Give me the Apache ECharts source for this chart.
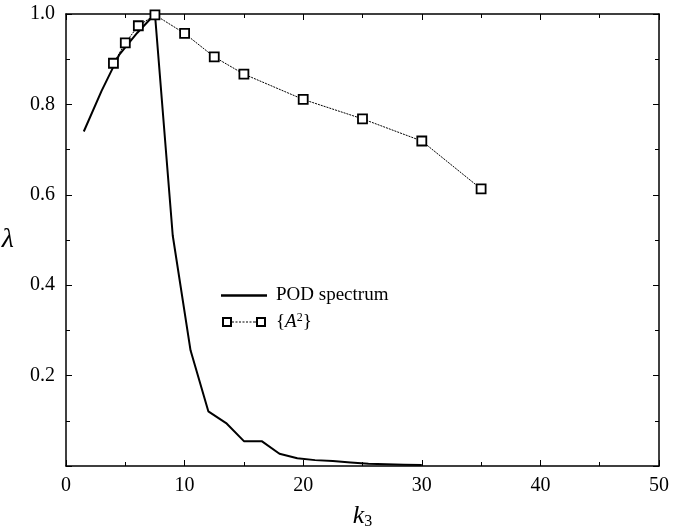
<!DOCTYPE html>
<html>
<head>
<meta charset="utf-8">
<script src="https://cdn.jsdelivr.net/npm/echarts@6/dist/echarts.min.js"></script>
<style>
html, body { margin: 0; padding: 0; background: #fff; }
#main { width: 673px; height: 530px; }
</style>
</head>
<body>
<div id="main"></div>
<script>
var podK = [1.5, 3, 4.5, 6, 7.5, 9, 10.5, 12, 13.5, 15, 16.5, 18, 19.5, 21, 22.5, 24, 25.5, 27, 28.5, 30];
var podLambda = [0.74, 0.83, 0.91, 0.958, 1.0, 0.51, 0.256, 0.121, 0.095, 0.055, 0.055, 0.027, 0.017, 0.013, 0.011, 0.008, 0.005, 0.004, 0.003, 0.002];
var ampK = [4, 5, 6.1, 7.5, 10, 12.5, 15, 20, 25, 30, 35];
var ampLambda = [0.891, 0.936, 0.974, 0.998, 0.957, 0.905, 0.867, 0.811, 0.768, 0.719, 0.613];
var yTicks = ['', '0.2', '0.4', '0.6', '0.8', '1.0'];

var font = 'Liberation Serif';
var dom = document.getElementById('main');
var chart = echarts.init(dom);

function pairs(xs, ys) {
    return xs.map(function (x, i) { return [x, ys[i]]; });
}

var lineIcon = 'path://M0,4 L44,4 L44,6.2 L0,6.2 Z';
var sqIcon = 'path://M0,0 L10,0 L10,10 L0,10 Z M2,2 L2,8 L8,8 L8,2 Z ' +
    'M10,4.6 L12,4.6 L12,5.4 L10,5.4 Z M13.5,4.6 L15.5,4.6 L15.5,5.4 L13.5,5.4 Z ' +
    'M17,4.6 L19,4.6 L19,5.4 L17,5.4 Z M20.5,4.6 L22.5,4.6 L22.5,5.4 L20.5,5.4 Z ' +
    'M24,4.6 L26,4.6 L26,5.4 L24,5.4 Z M27.5,4.6 L29.5,4.6 L29.5,5.4 L27.5,5.4 Z ' +
    'M31,4.6 L34,4.6 L34,5.4 L31,5.4 Z ' +
    'M34,0 L44,0 L44,10 L34,10 Z M36,2 L36,8 L42,8 L42,2 Z';

function frameAxis(extra) {
    var a = {
        type: 'value',
        axisLine: { show: true, onZero: false, lineStyle: { color: '#000', width: 1.5 } },
        axisTick: { inside: true, length: 6, lineStyle: { color: '#000' } },
        minorTick: { show: true, splitNumber: 2, length: 4, lineStyle: { color: '#000' } },
        axisLabel: { show: false },
        splitLine: { show: false }
    };
    for (var k in extra) a[k] = extra[k];
    return a;
}

var option = {
    backgroundColor: '#fff',
    animation: false,
    grid: { left: 66, right: 14, top: 14, bottom: 64, containLabel: false, outerBoundsMode: 'none' },
    legend: {
        left: 216,
        top: 281,
        orient: 'vertical',
        itemGap: 7,
        itemWidth: 46,
        itemHeight: 10,
        textStyle: {
            fontFamily: font, fontSize: 19, color: '#000', padding: [0, 0, 0, 4],
            rich: {
                i: { fontFamily: font, fontStyle: 'italic', fontSize: 19, color: '#000' },
                s: { fontFamily: font, fontSize: 12, color: '#000', verticalAlign: 'top', padding: [0, 0, 8, 0] }
            }
        },
        formatter: function (name) {
            return name === 'A2' ? '{{i|A}{s|2}}' : name;
        },
        data: [
            { name: 'POD spectrum', icon: lineIcon, itemStyle: { color: '#000', borderWidth: 0 } },
            { name: 'A2', icon: sqIcon, itemStyle: { color: '#000', borderWidth: 0 } }
        ]
    },
    xAxis: [frameAxis({
        min: 0, max: 50, interval: 10,
        name: '{k|k}{s|3}',
        nameLocation: 'middle', nameGap: 36,
        nameTextStyle: {
            rich: {
                k: { fontFamily: font, fontStyle: 'italic', fontSize: 26, color: '#000' },
                s: { fontFamily: font, fontSize: 16, color: '#000', verticalAlign: 'bottom', padding: [12, 0, 0, 0] }
            }
        },
        axisLabel: { show: true, fontFamily: font, fontSize: 20, color: '#000', margin: 10 }
    }), frameAxis({
        min: 0, max: 50, interval: 10, position: 'top'
    })],
    yAxis: [frameAxis({
        min: 0, max: 1, interval: 0.2,
        name: 'λ',
        nameLocation: 'middle', nameGap: 52, nameRotate: 0,
        nameTextStyle: { fontFamily: font, fontStyle: 'italic', fontSize: 28, color: '#000' },
        axisLabel: {
            show: true, fontFamily: font, fontSize: 20, color: '#000', margin: 11,
            formatter: function (v) { return yTicks[Math.round(v / 0.2)]; }
        }
    }), frameAxis({
        min: 0, max: 1, interval: 0.2, position: 'right'
    })],
    series: [{
        name: 'POD spectrum',
        type: 'line',
        data: pairs(podK, podLambda),
        symbol: 'none',
        lineStyle: { color: '#000', width: 2 },
        itemStyle: { color: '#000' }
    }, {
        name: 'A2',
        type: 'line',
        data: pairs(ampK, ampLambda),
        symbol: 'rect',
        symbolSize: 9,
        lineStyle: { color: '#000', width: 1, type: [2, 1] },
        itemStyle: { color: '#fff', borderColor: '#000', borderWidth: 1.8 },
        z: 3
    }]
};
chart.setOption(option);
</script>
</body>
</html>
